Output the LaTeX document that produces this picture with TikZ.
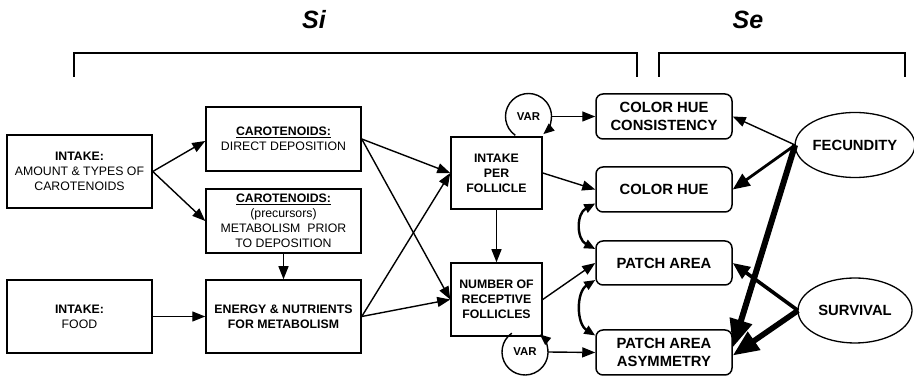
\documentclass[tikz,border=0pt]{standalone}
\usepackage{fontspec}
\setmainfont{Liberation Sans}
\usetikzlibrary{arrows.meta,shapes.geometric}
\begin{document}
\begin{tikzpicture}[x=1pt,y=1pt,
  box/.style={draw,line width=1.5pt,align=center,inner sep=0pt,font=\fontsize{12.3}{15}\selectfont},
  bbox/.style={box,font=\bfseries\fontsize{12.3}{15}\selectfont},
  rbox/.style={draw,line width=1.5pt,rounded corners=7pt,align=center,minimum width=136pt,minimum height=45pt,inner sep=0pt,font=\bfseries\fontsize{14.8}{17.5}\selectfont},
  ell/.style={draw,ellipse,line width=1.3pt,minimum width=114pt,minimum height=65pt,inner sep=0pt,outer sep=0pt,font=\bfseries\fontsize{14.8}{17.5}\selectfont},
  varc/.style={circle,minimum size=46pt,inner sep=0pt,outer sep=0pt,font=\bfseries\fontsize{11.4}{13}\selectfont},
  arr/.style={line width=1.4pt,-{Triangle[length=13pt,width=10pt]}},
  varr/.style={line width=1.4pt,-{Triangle[length=11pt,width=9pt]}},
  darr/.style={line width=2.4pt,{Triangle[length=11pt,width=9pt]}-{Triangle[length=11pt,width=9pt]}},
  title/.style={font=\bfseries\itshape\fontsize{25}{25}\selectfont},
  brk/.style={line width=1.5pt}
]
\useasboundingbox (0,0) rectangle (914,380);
\fill[white] (0,0) rectangle (914,380);

% titles and brackets
\node[title] (si) at (314,360) {Si};
\node[title] (se) at (748,360) {Se};
\draw[brk] (74,303) |- (637,327) -- (637,303);
\draw[brk] (659,303) |- (905,327) -- (905,303);

% left column
\node[box,minimum width=145pt,minimum height=73pt] (i1) at (79.5,208.5)
  {\textbf{INTAKE:}\\AMOUNT \& TYPES OF\\CAROTENOIDS};
\node[box,minimum width=145pt,minimum height=73pt] (i2) at (79.5,63.5)
  {\textbf{INTAKE:}\\FOOD};

% middle column
\node[box,minimum width=155pt,minimum height=64pt] (cd) at (283.5,241)
  {\textbf{\underline{CAROTENOIDS:}}\\DIRECT DEPOSITION};
\node[box,minimum width=155pt,minimum height=64pt] (cp) at (283.5,159)
  {\textbf{\underline{CAROTENOIDS:}}\\(precursors)\\METABOLISM~ PRIOR\\TO DEPOSITION};
\node[bbox,minimum width=155pt,minimum height=73pt] (en) at (283.5,63.5)
  {ENERGY \& NUTRIENTS\\FOR METABOLISM};

% follicle boxes
\node[bbox,minimum width=91pt,minimum height=72pt] (pf) at (496.5,207)
  {INTAKE\\PER\\FOLLICLE};
\node[bbox,minimum width=91pt,minimum height=73pt] (nr) at (496.5,80.5)
  {NUMBER OF\\RECEPTIVE\\FOLLICLES};

% VAR circles
\node[varc] (v1) at (528.5,263.5) {VAR};
\node[varc] (v2) at (525,28) {VAR};

% right boxes
\node[rbox] (ch) at (664,263.5) {COLOR HUE\\CONSISTENCY};
\node[rbox] (hu) at (664,190.5) {COLOR HUE};
\node[rbox,minimum height=44pt] (pa) at (664,117) {PATCH AREA};
\node[rbox] (as) at (664,27.5) {PATCH AREA\\ASYMMETRY};

% ellipses
\node[ell] (fe) at (855,235) {FECUNDITY};
\node[ell] (su) at (855,69.5) {SURVIVAL};

% left arrows
\draw[arr] (i1.east) -- ([yshift=-2pt]cd.west);
\draw[arr] (i1.east) -- (cp.west);
\draw[arr] (cp.south) -- (en.north);
\draw[arr] (i2.east) -- (en.west);
\draw[arr] (cd.east) -- (pf.west);
\draw[arr] (cd.east) -- (nr.west);
\draw[arr] (en.east) -- (pf.west);
\draw[arr] (en.east) -- (nr.west);

% follicle arrows
\draw[arr] (pf.east) -- (hu.west);
\draw[arr] (pf.south) -- (nr.north);
\draw[arr] (nr.east) -- (pa.west);

% VAR loops and arrows
\draw[varr] (v1.235) arc[start angle=235,end angle=-50,radius=23pt];
\draw[varr] (v2.125) arc[start angle=125,end angle=410,radius=23pt];
\draw[arr] (v1.east) -- (ch.west);
\draw[arr] (v2.east) -- (as.west);

% correlations
\draw[darr] ([yshift=-14pt]hu.west) .. controls +(-19,-10) and +(-19,10) .. ([yshift=14pt]pa.west);
\draw[darr] ([yshift=-17pt]pa.west) .. controls +(-19,-12) and +(-19,12) .. ([yshift=17pt]as.west);

% selection arrows
\draw[line width=1.4pt,-{Triangle[length=13pt,width=10pt]}] (fe.west) -- (ch.east);
\draw[line width=2.8pt,-{Triangle[length=17pt,width=14pt]}] (fe.west) -- (hu.east);
\draw[line width=6pt,-{Triangle[length=28pt,width=22pt]}] (fe.west) -- ([yshift=5pt]as.east);
\draw[line width=3.6pt,-{Triangle[length=17pt,width=14pt]}] (su.west) -- (pa.east);
\draw[line width=5.6pt,-{Triangle[length=26pt,width=21pt]}] (su.west) -- ([yshift=-3pt]as.east);
\end{tikzpicture}
\end{document}
